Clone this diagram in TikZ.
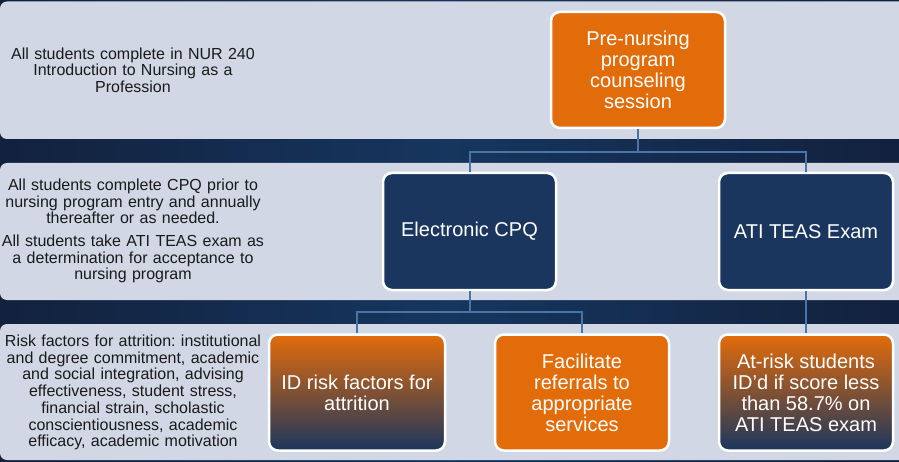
\documentclass[tikz,border=0pt]{standalone}
\usepackage{fontspec}
\setmainfont{Liberation Sans}
\frenchspacing
\definecolor{bgL}{HTML}{12213D}
\definecolor{bgM}{HTML}{16365F}
\definecolor{bgR}{HTML}{12213D}
\definecolor{bandc}{HTML}{D1D7E5}
\definecolor{navy}{HTML}{1B365E}
\definecolor{orng}{HTML}{E36C0A}
\definecolor{connc}{HTML}{4A73A6}
\definecolor{txt}{HTML}{1A1A1A}
\tikzset{
  band/.style={fill=bandc, rounded corners=7pt},
  box/.style={draw=white, line width=2.5pt, rounded corners=9pt, minimum width=174pt, minimum height=116pt, text=white, align=center, font=\fontsize{20}{21}\selectfont, inner sep=4pt},
  darkbox/.style={box, fill=navy},
  orangebox/.style={box, fill=orng},
  gradbox/.style={box, top color=orng, bottom color=navy},
  lefttext/.style={align=center, text=txt, font=\fontsize{16}{16.7}\selectfont, text width=265pt},
  conn/.style={draw=connc, line width=2pt}
}
\begin{document}
\begin{tikzpicture}[x=1pt,y=-1pt]
\useasboundingbox (0,0) rectangle (899,462);
\clip (0,0) rectangle (899,462);
\shade[left color=bgL, right color=bgR, middle color=bgM] (0,0) rectangle (899,462);
\fill[band] (0,1.5) rectangle (915,139);
\fill[band] (0,163) rectangle (915,300);
\fill[band] (0,324) rectangle (915,460);

\coordinate (h1) at (0,152);
\coordinate (h2) at (0,312);

\node[orangebox, text width=150pt] (pre) at (638,70) {Pre-nursing\\program\\counseling\\session};
\node[darkbox, minimum width=173pt, minimum height=117pt] (ecpq) at (469.5,231.5) {Electronic CPQ};
\node[darkbox, minimum height=117pt] (ati) at (806,231.5) {ATI TEAS Exam};
\node[gradbox, minimum width=176pt] (idr) at (357,392.5) {ID risk factors for\\attrition};
\node[orangebox] (fac) at (582,392.5) {Facilitate\\referrals to\\appropriate\\services};
\node[gradbox] (atr) at (806,392.5) {At-risk students\\ID’d if score less\\than 58.7\% on\\ATI TEAS exam};

\draw[conn] (pre.south) -- (pre.south |- h1);
\draw[conn] (ecpq.north) -- (ecpq.north |- h1) -| (ati.north);
\draw[conn] (ecpq.south) -- (ecpq.south |- h2);
\draw[conn] (idr.north) -- (idr.north |- h2) -| (fac.north);
\draw[conn] (ati.south) -- (atr.north);

\node[lefttext] (t1) at (133,70) {All students complete in NUR 240\\Introduction to Nursing as a\\Profession};
\node[lefttext] (t2) at (133,231) {All students complete CPQ prior to\\nursing program entry and annually\\thereafter or as needed.\\[6pt]All students take ATI TEAS exam as\\a determination for acceptance to\\nursing program};
\node[lefttext] (t3) at (133,392.5) {Risk factors for attrition: institutional\\and degree commitment, academic\\and social integration, advising\\effectiveness, student stress,\\financial strain, scholastic\\conscientiousness, academic\\efficacy, academic motivation};
\end{tikzpicture}
\end{document}
